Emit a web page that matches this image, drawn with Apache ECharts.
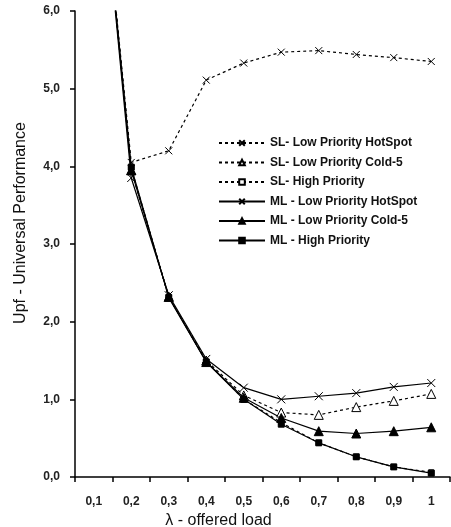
<!DOCTYPE html>
<html><head><meta charset="utf-8">
<script src="https://cdn.jsdelivr.net/npm/echarts@6/dist/echarts.min.js"></script>
<style>html,body{margin:0;padding:0;background:#fff}#c{width:451px;height:527px}</style>
</head><body><div id="c"></div>
<script>
var categories = ['0,1','0,2','0,3','0,4','0,5','0,6','0,7','0,8','0,9','1'];
var slHotSpot = [8.9, 4.05, 4.2, 5.11, 5.33, 5.47, 5.49, 5.44, 5.40, 5.35];
var slCold5   = [8.9, 3.95, 2.32, 1.50, 1.05, 0.83, 0.80, 0.90, 0.98, 1.07];
var slHigh    = [8.9, 3.98, 2.32, 1.49, 1.00, 0.70, 0.44, 0.26, 0.13, 0.06];
var mlHotSpot = [8.9, 3.85, 2.34, 1.52, 1.15, 1.00, 1.04, 1.08, 1.16, 1.21];
var mlCold5   = [8.9, 3.95, 2.32, 1.48, 1.02, 0.76, 0.59, 0.56, 0.59, 0.64];
var mlHigh    = [8.9, 3.99, 2.31, 1.48, 1.00, 0.68, 0.44, 0.26, 0.13, 0.05];
var seriesNames = ['SL- Low Priority HotSpot','SL- Low Priority Cold-5','SL- High Priority','ML - Low Priority HotSpot','ML - Low Priority Cold-5','ML - High Priority'];

var cross = 'path://M0,0L10,10M10,0L0,10';
function mk(name, data, dashed, symbol, size, fill, bw){
  return {
    name: name, type: 'line', data: data, clip: true,
    symbol: symbol, symbolSize: size,
    lineStyle: {color: '#000', width: 1.2, type: dashed ? [3,3] : 'solid'},
    itemStyle: {color: fill, borderColor: '#000', borderWidth: bw},
    animation: false
  };
}
var chart = echarts.init(document.getElementById('c'));
chart.setOption({
  animation: false,
  grid: {left: 75, right: 1, top: 11, bottom: 50, containLabel: false, outerBoundsMode: 'none'},
  legend: {
    orient: 'vertical', left: 213, top: 132, itemWidth: 46, itemHeight: 7, itemGap: 7.5,
    textStyle: {fontFamily: 'Liberation Sans, Arial', fontSize: 12, fontWeight: 'bold', color: '#111'},
    data: seriesNames
  },
  xAxis: {
    type: 'category', data: categories, boundaryGap: true,
    axisLine: {lineStyle: {color: '#000', width: 1.5}},
    axisTick: {show: true, length: 5, lineStyle: {color: '#000', width: 1.5}},
    axisLabel: {margin: 19, fontFamily: 'Liberation Sans, Arial', fontSize: 12, fontWeight: 'bold', color: '#222'},
    splitLine: {show: false},
    name: 'λ - offered load', nameLocation: 'middle', nameGap: 32,
    nameTextStyle: {fontFamily: 'Liberation Sans, Arial', fontSize: 16, color: '#111', padding: [0, 88, 0, 0]}
  },
  yAxis: {
    type: 'value', min: 0, max: 6, interval: 1,
    axisLine: {show: true, lineStyle: {color: '#000', width: 1.5}},
    axisTick: {show: true, length: 5, lineStyle: {color: '#000', width: 1.5}},
    axisLabel: {margin: 15, fontFamily: 'Liberation Sans, Arial', fontSize: 12, fontWeight: 'bold', color: '#222',
      formatter: function(v){ return v.toFixed(1).replace('.', ','); }},
    splitLine: {show: false},
    name: 'Upf - Universal Performance', nameLocation: 'middle', nameGap: 46,
    nameTextStyle: {fontFamily: 'Liberation Sans, Arial', fontSize: 16, color: '#111', padding: [0, 0, 0, 42]}
  },
  series: [
    mk(seriesNames[0], slHotSpot, true, cross, 7, 'none', 1),
    mk(seriesNames[1], slCold5, true, 'triangle', 9, '#fff', 1),
    mk(seriesNames[2], slHigh, true, 'rect', 5, '#fff', 1),
    mk(seriesNames[3], mlHotSpot, false, cross, 8, 'none', 1),
    mk(seriesNames[4], mlCold5, false, 'triangle', 9, '#000', 1),
    mk(seriesNames[5], mlHigh, false, 'rect', 6, '#000', 1)
  ]
});
</script></body></html>
